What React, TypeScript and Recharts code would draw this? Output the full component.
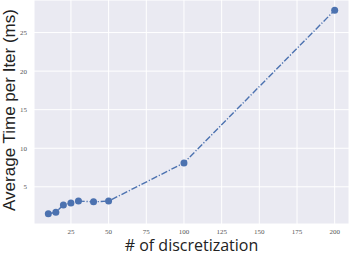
import { LineChart, Line, XAxis, YAxis, CartesianGrid, Label } from 'recharts'

const discretization = [10, 15, 20, 25, 30, 40, 50, 100, 200]
const avgTimeMs = [1.5, 1.7, 2.65, 2.9, 3.15, 3.05, 3.15, 8.1, 27.9]
const xTicks = [25, 50, 75, 100, 125, 150, 175, 200]
const yTicks = [5, 10, 15, 20, 25]

const data = discretization.map((n, i) => ({ n, ms: avgTimeMs[i] }))

const tickStyle = { fill: '#555', fontSize: 7, fontFamily: '"Liberation Serif", serif' }

function YTitle() {
  return (
    <text
      transform="translate(15, 110) rotate(-90)"
      textAnchor="middle"
      fontFamily='"Liberation Sans", sans-serif'
      fontSize={17}
      fill="#222"
    >
      Average Time per Iter (ms)
    </text>
  )
}

export default function App() {
  return (
    <div style={{ position: 'absolute', left: 0, top: 0, background: '#fff' }}>
      <LineChart width={349} height={254} data={data} margin={{ top: 0, right: 0, bottom: 0, left: 0 }}>
        <CartesianGrid fill="#EAEAF2" stroke="#fff" strokeWidth={1} />
        <XAxis
          dataKey="n"
          type="number"
          domain={[0.5, 209.5]}
          ticks={xTicks}
          height={30}
          axisLine={false}
          tickLine={false}
          tickSize={0}
          tickMargin={5}
          tick={tickStyle}
        >
          <Label
            value="# of discretization"
            position="insideBottom"
            offset={3}
            style={{ fontFamily: '"Open Sans", sans-serif', fontSize: 16, fill: '#222' }}
          />
        </XAxis>
        <YAxis
          type="number"
          domain={[0.18, 29.22]}
          ticks={yTicks}
          width={34}
          axisLine={false}
          tickLine={false}
          tickSize={0}
          tickMargin={7}
          tick={tickStyle}
        >
          <Label content={<YTitle />} />
        </YAxis>
        <Line
          dataKey="ms"
          stroke="#4C72B0"
          strokeWidth={1.4}
          strokeDasharray="6.4 1.8 1.2 1.8"
          dot={{ r: 3.5, fill: '#4C72B0', stroke: 'none' }}
          isAnimationActive={false}
          type="linear"
        />
      </LineChart>
    </div>
  )
}
